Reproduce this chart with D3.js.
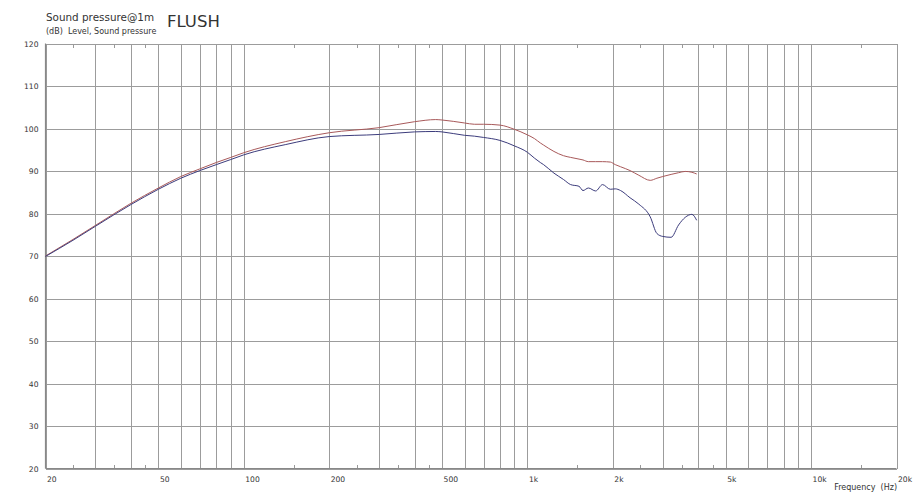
<!DOCTYPE html>
<html>
<head>
<meta charset="utf-8">
<script src="https://cdn.jsdelivr.net/npm/d3@7"></script>
<style>
  html, body { margin: 0; padding: 0; background: #fff; }
  svg { display: block; }
  text { font-family: "DejaVu Sans", Verdana, sans-serif; fill: #333; white-space: pre; }
</style>
</head>
<body>
<svg id="chart" width="914" height="495"></svg>
<script>
// ---- data ----
const freqs = [20, 25, 30, 40, 50, 60, 70, 80, 90, 100, 140, 200, 300, 400, 475, 500, 600, 650, 700, 800, 900,
  1000, 1060, 1110, 1140, 1240, 1340, 1420, 1520, 1570, 1640, 1740, 1840, 1960, 2040, 2130, 2300, 2470, 2710,
  2860, 3000, 3210, 3410, 3600, 3800, 3950];
const upperCurve = [70.0, 73.9, 77.2, 82.4, 86.0, 88.7, 90.5, 92.0, 93.2, 94.3, 96.9, 99.0, 100.2, 101.6, 102.1, 102.0, 101.3, 101.0, 101.0, 100.8, 99.8,
  98.5, 97.6, 96.6, 96.1, 94.6, 93.6, 93.2, 92.8, 92.6, 92.2, 92.2, 92.2, 92.1, 91.5, 91.0, 90.1, 89.0, 87.8,
  88.3, 88.7, 89.2, 89.6, 89.9, 89.7, 89.3];
const lowerCurve = [69.9, 73.7, 77.0, 82.1, 85.7, 88.3, 90.1, 91.5, 92.7, 93.8, 96.2, 98.1, 98.6, 99.2, 99.3, 99.2, 98.4, 98.2, 97.9, 97.2, 95.9,
  94.4, 93.0, 92.0, 91.5, 89.5, 88.0, 86.8, 86.4, 85.4, 86.0, 85.3, 86.8, 85.7, 85.8, 85.4, 83.7, 82.2, 79.2,
  75.3, 74.6, 74.4, 77.3, 79.1, 79.8, 78.4];
const gridFreqs = [20, 30, 40, 50, 60, 70, 80, 90, 100, 200, 300, 400, 500, 600, 700, 800, 900,
  1000, 2000, 3000, 4000, 5000, 6000, 7000, 8000, 9000, 10000, 20000];
const minorFreqs = [25, 35, 45, 150, 250, 350, 450, 1500, 2500, 3500, 4500, 15000];
const xLabelFreqs = [20, 50, 100, 200, 500, 1000, 2000, 5000, 10000, 20000];
const xLabelTexts = ["20", "50", "100", "200", "500", "1k", "2k", "5k", "10k", "20k"];
const yTicks = [20, 30, 40, 50, 60, 70, 80, 90, 100, 110, 120];

// ---- layout ----
const pLeft = 45.5, pRight = 896.5, pTop = 43.5, pBottom = 468.5;
const svg = d3.select("#chart");
const x = d3.scaleLog().domain([20, 20000]).range([pLeft, pRight]);
const y = d3.scaleLinear().domain([20, 120]).range([pBottom, pTop]);
const plotH = pBottom - pTop, plotW = pRight - pLeft;

// vertical grid
const gx = svg.append("g").attr("transform", `translate(0,${pBottom})`)
  .call(d3.axisBottom(x).tickValues(gridFreqs).tickSize(-plotH).tickFormat(""));
gx.select(".domain").remove();
gx.selectAll("line").attr("stroke", "#9c9c9c").attr("shape-rendering", "crispEdges");

// horizontal grid + y labels
const gy = svg.append("g").attr("transform", `translate(${pLeft},0)`)
  .call(d3.axisLeft(y).tickValues(yTicks).tickSize(-plotW).tickPadding(7).tickFormat(d3.format("d")));
gy.select(".domain").remove();
gy.selectAll("line").attr("stroke", "#9c9c9c").attr("shape-rendering", "crispEdges");
gy.selectAll("text").attr("font-size", "7.6px").attr("fill", "#333")
  .attr("font-family", '"DejaVu Sans", Verdana, sans-serif').attr("dy", "0.35em");

// minor ticks bottom and top
const mb = svg.append("g").attr("transform", `translate(0,${pBottom})`)
  .call(d3.axisBottom(x).tickValues(minorFreqs).tickSize(-4).tickFormat(""));
mb.select(".domain").remove();
mb.selectAll("line").attr("stroke", "#999").attr("shape-rendering", "crispEdges");
const mt = svg.append("g").attr("transform", `translate(0,${pTop})`)
  .call(d3.axisTop(x).tickValues(minorFreqs).tickSize(-4).tickFormat(""));
mt.select(".domain").remove();
mt.selectAll("line").attr("stroke", "#999").attr("shape-rendering", "crispEdges");

// x labels
const xl = svg.append("g").attr("transform", `translate(0,${pBottom})`)
  .call(d3.axisBottom(x).tickValues(xLabelFreqs).tickSize(0).tickPadding(8)
    .tickFormat((d, i) => xLabelTexts[i]));
xl.select(".domain").remove();
xl.selectAll("text").attr("font-size", "7.6px").attr("fill", "#333").attr("text-anchor", "start")
  .attr("font-family", '"DejaVu Sans", Verdana, sans-serif').attr("dx", "1");

// frame axes (left and bottom darker)
svg.append("line").attr("x1", pLeft).attr("x2", pLeft).attr("y1", pTop).attr("y2", pBottom)
  .attr("stroke", "#888").attr("stroke-width", 1.2);
svg.append("line").attr("x1", pLeft).attr("x2", pRight).attr("y1", pBottom).attr("y2", pBottom)
  .attr("stroke", "#888").attr("stroke-width", 1.2);

// curves
const line = (vals) => d3.line().x((d, i) => x(freqs[i])).y(d => y(d)).curve(d3.curveMonotoneX)(vals);
svg.append("path").attr("d", line(upperCurve)).attr("fill", "none").attr("stroke", "#a8595a").attr("stroke-width", 1);
svg.append("path").attr("d", line(lowerCurve)).attr("fill", "none").attr("stroke", "#3c3c7c").attr("stroke-width", 1);

// titles
svg.append("text").attr("x", 46).attr("y", 21).attr("font-size", "10.4px").attr("fill", "#222").text("Sound pressure@1m");
svg.append("text").attr("x", 46).attr("y", 34).attr("font-size", "8px").attr("fill", "#333").text("(dB)\u00a0\u00a0Level, Sound pressure");
svg.append("text").attr("x", 167).attr("y", 27).attr("font-size", "16.5px").attr("fill", "#000")
  .attr("font-family", '"Open Sans", "Noto Sans", sans-serif').text("FLUSH");
svg.append("text").attr("x", 897).attr("y", 490).attr("font-size", "8px").attr("fill", "#333")
  .attr("text-anchor", "end").text("Frequency\u00a0\u00a0(Hz)");
</script>
</body>
</html>
